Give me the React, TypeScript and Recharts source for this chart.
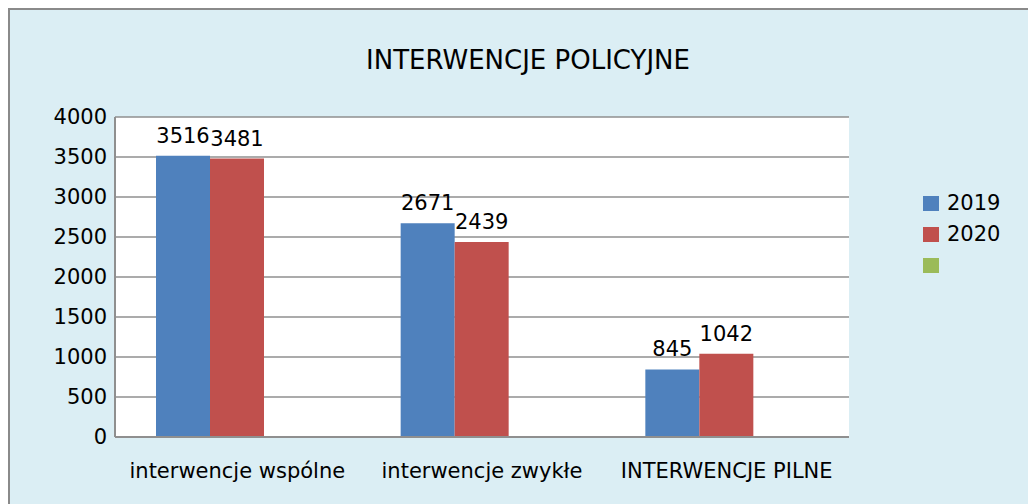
import React from "react";
import { BarChart, Bar, XAxis, YAxis, CartesianGrid, LabelList } from "recharts";

const categories = ["interwencje wspólne", "interwencje zwykłe", "INTERWENCJE PILNE"];
const values2019 = [3516, 2671, 845];
const values2020 = [3481, 2439, 1042];
const valuesEmpty: (number | null)[] = [null, null, null];
const seriesNames = ["2019", "2020", ""];
const seriesColors = ["#4F81BD", "#C0504D", "#9BBB59"];
const yTicks = [0, 500, 1000, 1500, 2000, 2500, 3000, 3500, 4000];
const title = "INTERWENCJE POLICYJNE";

const data = categories.map((c, i) => ({
  name: c,
  s2019: values2019[i],
  s2020: values2020[i],
  s3: valuesEmpty[i],
}));

const FONT = "'DejaVu Sans', sans-serif";

export default function App() {
  return (
    <div
      style={{
        position: "relative",
        width: 1028,
        height: 496,
        boxSizing: "border-box",
        background: "#DBEEF4",
        borderTop: "2px solid #8a8a8a",
        borderLeft: "2px solid #8a8a8a",
        overflow: "hidden",
      }}
    >
      <div
        style={{
          position: "absolute",
          left: 0,
          top: 37,
          width: 1036,
          textAlign: "center",
          fontFamily: FONT,
          fontSize: 26,
          lineHeight: "26px",
          color: "#000",
        }}
      >
        {title}
      </div>
      <div style={{ position: "absolute", left: -2, top: -2 }}>
        <BarChart
          width={1028}
          height={496}
          data={data}
          margin={{ top: 109, right: 187, left: 0, bottom: 0 }}
          barCategoryGap={41}
          barGap={0}
          style={{ fontFamily: FONT }}
        >
          <CartesianGrid vertical={false} stroke="#8f8f8f" strokeWidth={1.5} fill="#ffffff" />
          <XAxis
            dataKey="name"
            height={67}
            tickLine={false}
            tickSize={0}
            tickMargin={26}
            axisLine={{ stroke: "#8f8f8f", strokeWidth: 2 }}
            tick={{ fill: "#000", fontSize: 21, fontFamily: FONT }}
            interval={0}
          />
          <YAxis
            width={107}
            domain={[0, 4000]}
            ticks={yTicks}
            tickLine={false}
            tickSize={0}
            tickMargin={8}
            axisLine={{ stroke: "#8f8f8f", strokeWidth: 2 }}
            tick={{ fill: "#000", fontSize: 21, fontFamily: FONT }}
            interval={0}
          />
          <Bar dataKey="s2019" name={seriesNames[0]} fill={seriesColors[0]} isAnimationActive={false}>
            <LabelList dataKey="s2019" position="top" offset={13} fill="#000" fontSize={21} fontFamily={FONT} />
          </Bar>
          <Bar dataKey="s2020" name={seriesNames[1]} fill={seriesColors[1]} isAnimationActive={false}>
            <LabelList dataKey="s2020" position="top" offset={13} fill="#000" fontSize={21} fontFamily={FONT} />
          </Bar>
          <Bar dataKey="s3" name={seriesNames[2]} fill={seriesColors[2]} isAnimationActive={false} />
        </BarChart>
      </div>
      <div style={{ position: "absolute", left: 913, top: 186, fontFamily: FONT }}>
        {seriesNames.map((n, i) => (
          <div key={i} style={{ display: "flex", alignItems: "center", height: 15, marginBottom: 16 }}>
            <div style={{ width: 16, height: 15, background: seriesColors[i], marginRight: 8 }} />
            <span style={{ fontSize: 21, lineHeight: "15px", color: "#000" }}>{n}</span>
          </div>
        ))}
      </div>
    </div>
  );
}
